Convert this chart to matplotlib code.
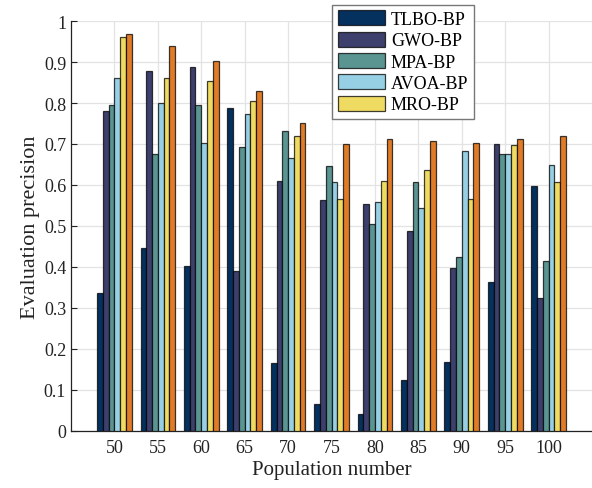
import numpy as np
import matplotlib
matplotlib.use("Agg")
import matplotlib.pyplot as plt

plt.rcParams['font.family'] = ['Liberation Serif', 'DejaVu Serif']

populations = ["50", "55", "60", "65", "70", "75", "80", "85", "90", "95", "100"]

tlbo_bp = [0.336, 0.446, 0.402, 0.787, 0.165, 0.067, 0.041, 0.124, 0.168, 0.364, 0.598]
gwo_bp  = [0.781, 0.878, 0.889, 0.390, 0.609, 0.563, 0.554, 0.489, 0.398, 0.701, 0.324]
mpa_bp  = [0.795, 0.676, 0.794, 0.692, 0.732, 0.647, 0.505, 0.607, 0.424, 0.676, 0.414]
avoa_bp = [0.861, 0.799, 0.702, 0.772, 0.667, 0.608, 0.558, 0.544, 0.682, 0.676, 0.648]
mro_bp  = [0.960, 0.862, 0.853, 0.804, 0.719, 0.566, 0.609, 0.637, 0.566, 0.697, 0.608]
imro_bp = [0.969, 0.940, 0.902, 0.830, 0.750, 0.701, 0.711, 0.708, 0.702, 0.713, 0.720]

series = [tlbo_bp, gwo_bp, mpa_bp, avoa_bp, mro_bp, imro_bp]
labels = ["TLBO-BP", "GWO-BP", "MPA-BP", "AVOA-BP", "MRO-BP", None]
colors = ["#05315f", "#3d406c", "#5b9592", "#97d0e4", "#efda62", "#e07b28"]

fig = plt.figure(figsize=(5.92, 4.89), dpi=100)
ax = fig.add_axes([0.12, 0.1166, 0.88, 0.8384])

x = np.arange(1, len(populations) + 1)
n = len(series)
group_w = 0.8
bar_w = group_w / n
handles = []
for i, (vals, lab, col) in enumerate(zip(series, labels, colors)):
    offs = -group_w / 2 + bar_w * (i + 0.5)
    b = ax.bar(x + offs, vals, width=bar_w, color=col,
               edgecolor=(0, 0, 0, 0.75), linewidth=0.9, zorder=3)
    if lab is not None:
        handles.append((b, lab))

ax.set_xlim(0, 12)
ax.set_ylim(0, 1)
ax.set_xticks(x)
ax.set_xticklabels(populations)
ax.set_yticks(np.arange(0, 1.01, 0.1))
ax.set_yticklabels(["0", "0.1", "0.2", "0.3", "0.4", "0.5", "0.6", "0.7", "0.8", "0.9", "1"])
ax.tick_params(direction='in', labelsize=13, length=4, width=0.8, colors='#222222',
               labelcolor='#222222')
ax.tick_params(axis='x', pad=6)
ax.grid(True, color='#e3e3e3', linewidth=0.9, zorder=0)
ax.set_axisbelow(True)
for s in ['top', 'right']:
    ax.spines[s].set_visible(False)
for s in ['left', 'bottom']:
    ax.spines[s].set_color('#222222')
    ax.spines[s].set_linewidth(0.9)

ax.set_xlabel("Population number", fontsize=15, color='#222222', labelpad=3)
ax.set_ylabel("Evaluation precision", fontsize=16, color='#222222', labelpad=3)

leg = fig.legend([h for h, _ in handles], [l for _, l in handles],
                 loc='upper left', bbox_to_anchor=(0.561, 0.988),
                 fontsize=13, frameon=True, fancybox=False,
                 handlelength=2.65, handleheight=0.9, handletextpad=0.3,
                 labelspacing=0.2, borderpad=0.3, borderaxespad=0.0)
leg.get_frame().set_edgecolor('#777777')
leg.get_frame().set_linewidth(1.0)
leg.get_frame().set_alpha(1.0)

fig.savefig("out.png", dpi=100)
